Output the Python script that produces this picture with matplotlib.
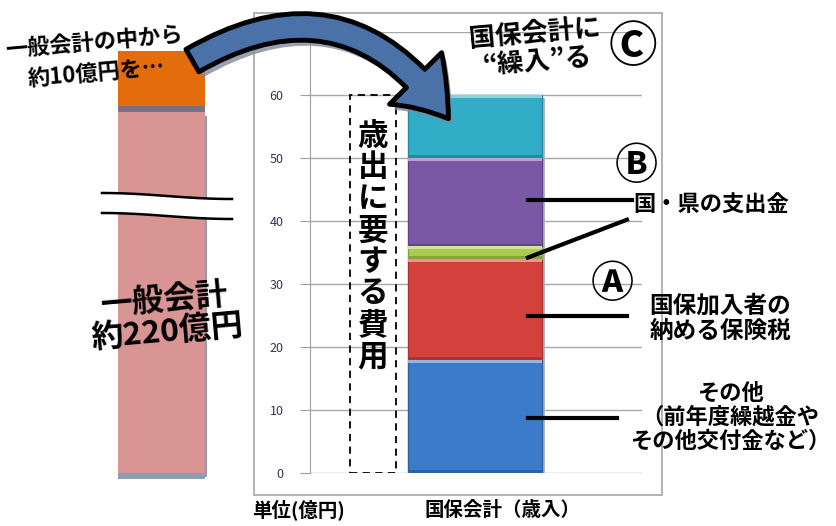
import numpy as np
import matplotlib
matplotlib.use('Agg')
import matplotlib.pyplot as plt
import matplotlib.colors as mcolors
from matplotlib.patches import Rectangle, FancyArrowPatch
from matplotlib.lines import Line2D
import matplotlib.patheffects as pe

plt.rcParams['font.family'] = ['Noto Sans CJK JP', 'DejaVu Sans']

# 国保会計（歳入）の内訳（億円）
segments = ['その他', '保険税', '県支出金', '国支出金', '繰入金']
values = [18, 16, 2, 14, 10]
seg_colors = ['#3b7bc9', '#d4413d', '#a9cd4e', '#7a58a5', '#31adc8']
yticks = [0, 10, 20, 30, 40, 50, 60, 70]

# 左の一般会計の棒（途中省略して描く見かけの高さ）
gen_heights = [57.3, 8.7]
gen_gap = 1.0
gen_colors = ['#d99594', '#e46c0a']

W, H = 836, 526
fig = plt.figure(figsize=(W / 100, H / 100), dpi=100)


def px(x, y):
    return x / W, 1 - y / H


# グラフ枠
fig.patches.append(Rectangle(px(254, 495), 408 / W, 482 / H, transform=fig.transFigure,
                             fill=False, ec='#a6a6a6', lw=1.2, zorder=0))

# ---- 一般会計の棒 ----
axl = fig.add_axes([118 / W, (H - 473) / H, 87 / W, 441 / H])
axl.set_xlim(-0.5, 0.5)
axl.set_ylim(0, 70)
axl.axis('off')
bots = [0, gen_heights[0] + gen_gap]
shadow_col = ['#8d9db2', '#7f6f80']
for b, h, c, sc in zip(bots, gen_heights, gen_colors, shadow_col):
    axl.bar(0, h, width=1.0, bottom=b - gen_gap, color=sc, clip_on=False, zorder=1,
            linewidth=0)
    axl.bar(0.0, h, width=1.0, bottom=b, color=c, clip_on=False, zorder=2, linewidth=0)
# 右側の影
axl.bar(0.51, gen_heights[0], width=0.03, bottom=-0.7, color='#8d9db2', clip_on=False, zorder=1,
        linewidth=0)

# 省略記号（波線）
t = np.linspace(0, 1, 60)
xs = 102 + 130 * t
wave = 6 * (1 - np.cos(np.pi * t)) / 2
top = 193 + wave
bot = 213 + wave
fx = xs / W
fig.patches.append(plt.Polygon(np.column_stack([np.r_[fx, fx[::-1]],
                                                np.r_[1 - top / H, (1 - bot / H)[::-1]]]),
                               transform=fig.transFigure, fc='white', ec='none', zorder=3))
for yy in (top, bot):
    fig.lines.append(Line2D(fx, 1 - yy / H, transform=fig.transFigure, color='black', lw=1.8,
                            zorder=4))

# ---- 国保会計の棒 ----
ax = fig.add_axes([310 / W, (H - 473) / H, 332 / W, 441 / H])
ax.set_xlim(-0.985, 0.997)
ax.set_ylim(0, 70)
ax.set_yticks(yticks)
ax.tick_params(axis='y', direction='out', length=7, color='#a0a0a0', labelsize=9,
               labelcolor='#333355', pad=12)
ax.tick_params(axis='x', bottom=False, labelbottom=False)
for s in ['top', 'right', 'bottom']:
    ax.spines[s].set_visible(False)
ax.spines['left'].set_color('#a0a0a0')
ax.grid(axis='y', color='#a8a8a8', lw=1)
ax.set_axisbelow(True)
ax.patch.set_alpha(0)

cum = np.cumsum([0] + values[:-1])
# 影
ax.bar(0.015, sum(values), width=0.8, bottom=-0.5, color='#b0b8c4', zorder=2, linewidth=0)
for b, v, c in zip(cum, values, seg_colors):
    rgb = np.array(mcolors.to_rgb(c))
    light = 1 - (1 - rgb) * 0.55
    dark = rgb * 0.8
    ax.bar(0, v, width=0.8, bottom=b, color=c, zorder=3, ec=dark, lw=1.0)
    ax.bar(0, 0.5, width=0.8, bottom=b + v - 0.5, color=light, zorder=4, linewidth=0)
    ax.bar(0, 0.4, width=0.8, bottom=b, color=dark, zorder=4, linewidth=0)

# 破線の枠
ax.add_patch(Rectangle((-0.746, 0.05), 0.274, 59.9, fill=False, ec='black', lw=1.3,
                       ls=(0, (4, 3)), zorder=5))
ax.text(-0.609, 36.0, '\n'.join('歳出に要する費用'), ha='center', va='center', fontsize=22,
        fontweight='bold', linespacing=0.98, zorder=6)

# 引き出し線
lw = 3
ax.plot([0.316, 0.937], [43.3, 43.3], color='black', lw=lw, clip_on=False, zorder=6)
ax.plot([0.316, 0.907], [34.2, 40.2], color='black', lw=lw, clip_on=False, zorder=6)
ax.plot([0.316, 0.907], [25.0, 25.0], color='black', lw=lw, clip_on=False, zorder=6)
ax.plot([0.316, 0.848], [8.8, 8.8], color='black', lw=lw, clip_on=False, zorder=6)

# ---- 矢印 ----
arrow = FancyArrowPatch(px(190, 62), px(450, 121), transform=fig.transFigure,
                        arrowstyle='simple,head_width=2.4,head_length=1.7,tail_width=0.85',
                        connectionstyle='arc3,rad=-0.47', mutation_scale=22,
                        fc='#4a72a8', ec='black', lw=3.5, zorder=10)
arrow.set_path_effects([pe.SimplePatchShadow(offset=(3, -4), shadow_rgbFace='#7f8a99', alpha=0.8),
                        pe.Normal()])
fig.patches.append(arrow)

# ---- 文字 ----
bold = dict(fontweight='bold', color='black')
fig.text(*px(95, 58), '一般会計の中から\n約10億円を…', ha='center', va='center', fontsize=16,
         rotation=5, linespacing=1.45, zorder=11, **bold)
fig.text(*px(536, 48), '国保会計に\n“繰入”る', ha='center', va='center', fontsize=19,
         rotation=5, linespacing=1.0, zorder=11, **bold)
fig.text(*px(633, 48), 'Ⓒ', ha='center', va='center', fontsize=35, zorder=11, **bold)
fig.text(*px(636, 166), 'Ⓑ', ha='center', va='center', fontsize=31, zorder=11, **bold)
fig.text(*px(711, 205), '国・県の支出金', ha='center', va='center', fontsize=16, **bold)
fig.text(*px(612, 284), 'Ⓐ', ha='center', va='center', fontsize=31, zorder=11, **bold)
fig.text(*px(720, 318), '国保加入者の\n納める保険税', ha='center', va='center', fontsize=17,
         linespacing=1.1, **bold)
fig.text(*px(730, 417), 'その他\n（前年度繰越金や\nその他交付金など）', ha='center', va='center',
         fontsize=16, linespacing=1.05, **bold)
fig.text(*px(166, 316), '一般会計\n約220億円', ha='center', va='center', fontsize=23,
         rotation=5, linespacing=1.0, zorder=11, **bold)
fig.text(*px(298, 510), '単位(億円)', ha='center', va='center', fontsize=14, **bold)
fig.text(*px(502, 510), '国保会計（歳入）', ha='center', va='center', fontsize=14, **bold)

fig.savefig('out.png', dpi=100)
